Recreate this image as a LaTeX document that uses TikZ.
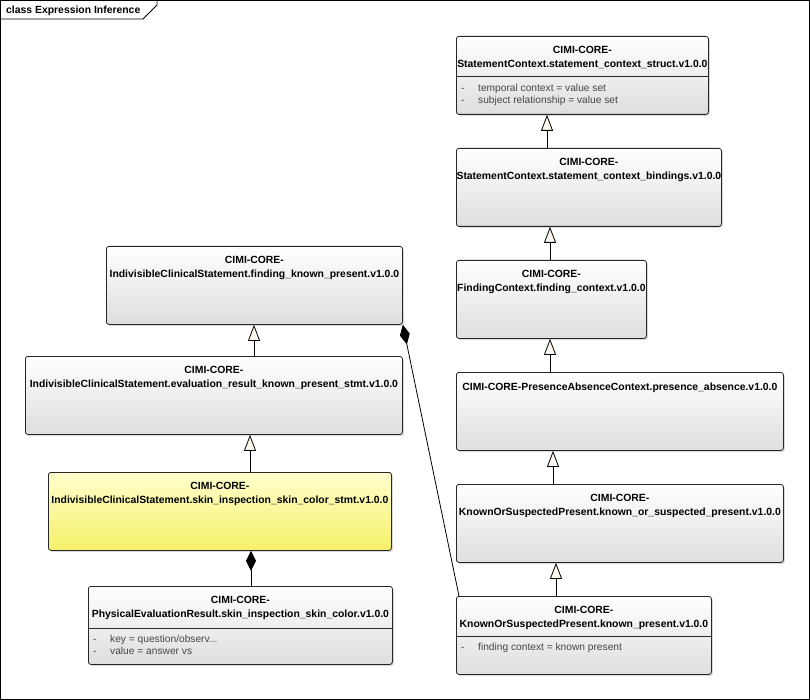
\documentclass[tikz,border=0pt]{standalone}
\usepackage{fontspec}
\setmainfont{Liberation Sans}
\usetikzlibrary{arrows.meta,shadows}
\definecolor{tricream}{RGB}{253,248,238}
\definecolor{boxgray}{RGB}{222,222,222}
\definecolor{ylwtop}{RGB}{255,255,205}
\definecolor{ylwbot}{RGB}{245,240,105}
\definecolor{attrgray}{RGB}{70,70,70}

\begin{document}
\begin{tikzpicture}[x=1pt,y=-1pt]
\tikzstyle{every node}+=[inner sep=0pt]
\tikzstyle{cls}=[draw=black!85,line width=0.8pt,rounded corners=2.5pt,anchor=north west,top color=white,bottom color=boxgray,drop shadow={shadow xshift=1.5pt,shadow yshift=-1.5pt,opacity=0.3},minimum height=78pt]
\tikzstyle{hilite}=[cls,top color=ylwtop,bottom color=ylwbot]
\tikzstyle{clsname}=[anchor=north,align=center,font=\fontsize{10.4}{14}\selectfont\bfseries]
\tikzstyle{attr}=[anchor=north west,align=left,text=attrgray,font=\fontsize{10.2}{12.5}\selectfont]
\tikzstyle{sep}=[draw=black!85,line width=0.6pt]
\tikzstyle{inherit}=[draw=black,line width=0.8pt,-{Triangle[open,length=16pt,width=12pt,fill=tricream]}]
\tikzstyle{compose}=[draw=black,line width=0.8pt,{Diamond[length=20pt,width=10pt]}-]
\useasboundingbox (0,0) rectangle (810,700);
\draw[line width=0.8pt] (0.5,0.5) rectangle (809.5,699.5);
\draw[line width=0.8pt] (0.5,19) -- (143,19) -- (157,5) -- (157,0.5);
\node[anchor=west,font=\fontsize{10.4}{12}\selectfont\bfseries] (frametitle) at (6,11) {class Expression Inference};

\node[cls,minimum width=252pt] (ctxstruct) at (456,36) {};
\node[clsname] at ([yshift=-10.5]ctxstruct.north) {CIMI-CORE-\\StatementContext.statement\_context\_struct.v1.0.0};
\draw[sep] ([yshift=-40]ctxstruct.north west) -- ([yshift=-40]ctxstruct.north east);
\node[attr] at ([xshift=5,yshift=-47.5]ctxstruct.north west) {\makebox[17pt][l]{-}temporal context = value set\\\makebox[17pt][l]{-}subject relationship = value set};

\node[cls,minimum width=265pt] (ctxbind) at (456,148) {};
\node[clsname] at ([yshift=-10.5]ctxbind.north) {CIMI-CORE-\\StatementContext.statement\_context\_bindings.v1.0.0};

\node[cls,minimum width=190pt] (findctx) at (456,260) {};
\node[clsname] at ([yshift=-10.5]findctx.north) {CIMI-CORE-\\FindingContext.finding\_context.v1.0.0};

\node[cls,minimum width=327pt] (presabs) at (456,372) {};
\node[clsname] at ([yshift=-11]presabs.north) {CIMI-CORE-PresenceAbsenceContext.presence\_absence.v1.0.0};

\node[cls,minimum width=327pt] (kosp) at (456,484) {};
\node[clsname] at ([yshift=-10.5]kosp.north) {CIMI-CORE-\\KnownOrSuspectedPresent.known\_or\_suspected\_present.v1.0.0};

\node[cls,minimum width=255pt] (knownpres) at (456,596) {};
\node[clsname] at ([yshift=-10.5]knownpres.north) {CIMI-CORE-\\KnownOrSuspectedPresent.known\_present.v1.0.0};
\draw[sep] ([yshift=-40]knownpres.north west) -- ([yshift=-40]knownpres.north east);
\node[attr] at ([xshift=5,yshift=-46.5]knownpres.north west) {\makebox[17pt][l]{-}finding context = known present};

\node[cls,minimum width=296pt] (fkp) at (106,246) {};
\node[clsname] at ([yshift=-10.5]fkp.north) {CIMI-CORE-\\IndivisibleClinicalStatement.finding\_known\_present.v1.0.0};

\node[cls,minimum width=377pt] (evalres) at (25,356) {};
\node[clsname] at ([yshift=-10.5]evalres.north) {CIMI-CORE-\\IndivisibleClinicalStatement.evaluation\_result\_known\_present\_stmt.v1.0.0};

\node[hilite,minimum width=343pt] (skinstmt) at (48,472) {};
\node[clsname] at ([yshift=-10.5]skinstmt.north) {CIMI-CORE-\\IndivisibleClinicalStatement.skin\_inspection\_skin\_color\_stmt.v1.0.0};

\node[cls,minimum width=304pt] (physeval) at (88,586) {};
\node[clsname] at ([yshift=-10.5]physeval.north) {CIMI-CORE-\\PhysicalEvaluationResult.skin\_inspection\_skin\_color.v1.0.0};
\draw[sep] ([yshift=-42]physeval.north west) -- ([yshift=-42]physeval.north east);
\node[attr] at ([xshift=5,yshift=-48.5]physeval.north west) {\makebox[17pt][l]{-}key = question/observ...\\\makebox[17pt][l]{-}value = answer vs};

\draw[inherit] ([xshift=91]ctxbind.north west) -- ([xshift=91]ctxstruct.south west);
\draw[inherit] ([xshift=94]findctx.north west) -- ([xshift=94]ctxbind.south west);
\draw[inherit] ([xshift=94]presabs.north west) -- ([xshift=94]findctx.south west);
\draw[inherit] ([xshift=97]kosp.north west) -- ([xshift=97]presabs.south west);
\draw[inherit] ([xshift=100]knownpres.north west) -- ([xshift=100]kosp.south west);
\draw[inherit] ([xshift=229]evalres.north west) -- ([xshift=148]fkp.south west);
\draw[inherit] ([xshift=202]skinstmt.north west) -- ([xshift=225]evalres.south west);
\draw[compose] ([xshift=203]skinstmt.south west) -- ([xshift=163]physeval.north west);
\draw[compose] (fkp.south east) -- ([xshift=3]knownpres.north west);
\end{tikzpicture}
\end{document}
